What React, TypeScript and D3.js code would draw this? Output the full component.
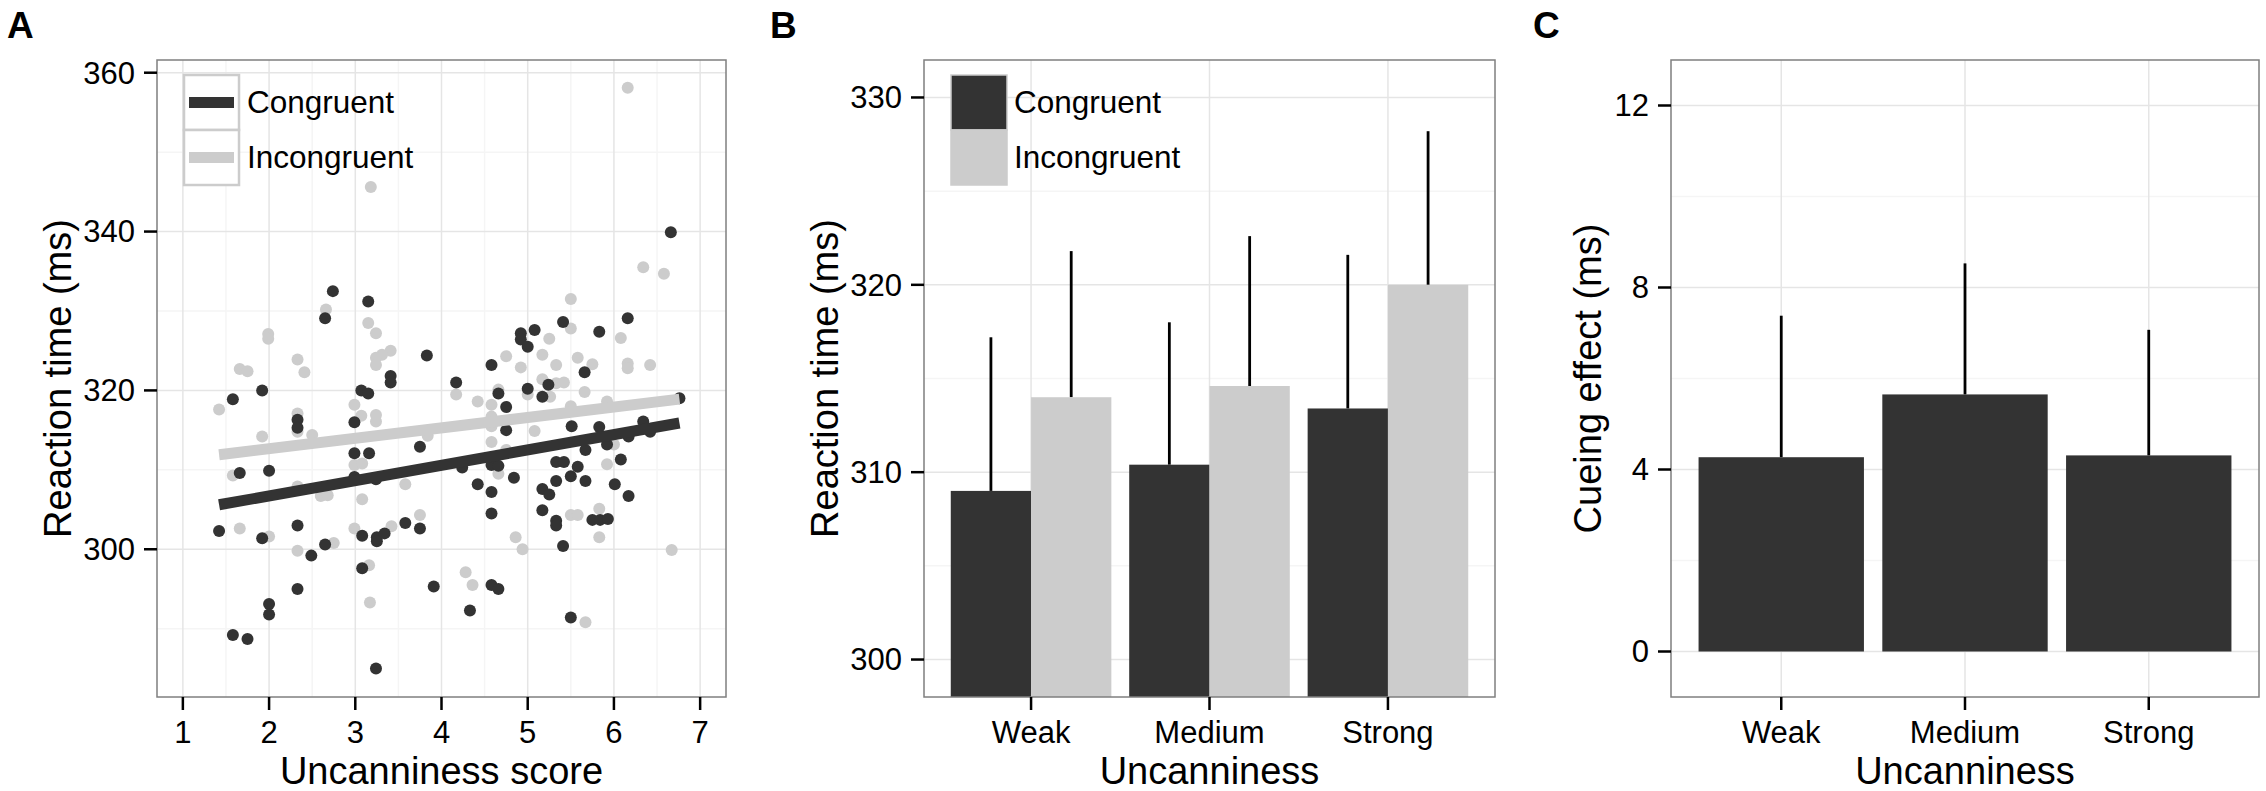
import * as d3 from 'd3';

// panel A: individual participants (uncanniness score, mean RT)
const congruentPoints: [number, number][] = [
  [2.74, 332.5], [3.15, 331.2], [2.65, 329.1], [3.83, 324.4], [3.41, 321.8], [3.41, 321.0],
  [3.07, 320.0], [3.15, 319.6], [1.92, 320.0], [1.58, 318.9], [2.33, 316.3], [2.33, 315.3],
  [2.99, 316.0], [2.99, 312.1], [3.16, 312.1], [3.75, 312.9], [1.66, 309.6], [2.0, 309.9],
  [1.42, 302.3], [1.92, 301.4], [2.33, 303.0], [2.49, 299.2], [2.65, 300.6], [3.08, 301.7],
  [3.25, 301.5], [3.25, 301.0], [3.34, 302.0], [3.58, 303.3], [3.75, 302.6], [3.08, 297.6],
  [2.33, 295.0], [2.0, 293.1], [2.0, 291.8], [1.58, 289.2], [1.75, 288.7], [3.24, 285.0],
  [3.91, 295.3], [2.99, 309.1], [3.24, 308.8],
  [4.24, 310.3], [4.42, 308.2], [4.58, 307.2], [4.58, 304.5], [4.84, 309.0], [4.58, 310.6],
  [4.66, 310.5], [5.17, 307.6], [5.25, 306.9], [5.17, 304.9], [5.33, 303.6], [5.33, 303.0],
  [5.41, 300.4], [5.33, 308.6], [5.33, 311.0], [5.42, 311.0], [5.5, 309.2], [5.58, 310.4],
  [5.67, 308.6], [5.75, 303.7], [5.84, 303.7], [5.93, 303.8], [6.01, 308.2], [6.17, 306.7],
  [6.08, 311.3], [4.58, 295.5], [4.66, 295.0], [4.33, 292.3], [5.5, 291.4],
  [6.66, 339.9], [6.16, 329.1], [5.41, 328.6], [5.83, 327.4], [5.08, 327.6], [4.92, 327.2],
  [4.92, 326.4], [5.0, 325.5], [4.58, 323.2], [5.66, 322.3], [4.17, 321.0], [4.66, 319.6],
  [5.0, 320.2], [5.17, 319.2], [5.24, 320.7], [4.75, 317.9], [6.76, 319.0], [4.75, 315.0],
  [5.51, 315.5], [5.83, 315.4], [6.34, 316.1], [6.42, 314.8], [6.17, 314.2], [5.67, 312.5],
  [5.92, 313.2],
];

const incongruentPoints: [number, number][] = [
  [3.18, 345.6], [6.16, 358.1], [6.34, 335.5], [6.58, 334.7],
  [2.66, 330.2], [3.15, 328.5], [3.24, 327.2], [1.99, 327.1], [1.99, 326.5], [3.41, 325.0],
  [3.31, 324.5], [3.24, 324.1], [3.24, 323.2], [1.66, 322.7], [1.75, 322.4], [2.33, 323.9],
  [2.41, 322.3], [1.42, 317.6], [1.92, 314.2], [2.33, 317.1], [2.33, 314.8], [2.5, 314.4],
  [2.99, 318.2], [3.07, 316.8], [3.24, 316.9], [3.24, 316.1], [2.99, 310.6], [3.08, 310.8],
  [3.84, 314.3],
  [1.58, 309.3], [1.66, 302.6], [2.0, 301.6], [2.33, 299.8], [2.75, 300.8], [2.99, 302.6],
  [3.08, 306.3], [3.16, 298.0], [3.17, 293.3], [3.42, 302.9], [3.58, 308.2], [3.75, 304.3],
  [2.6, 306.7], [2.68, 306.8], [2.33, 307.9],
  [4.66, 309.5], [4.86, 301.5], [4.94, 300.0], [4.28, 297.1], [4.36, 295.5], [5.5, 304.3],
  [5.58, 304.3], [5.83, 305.1], [5.83, 301.5], [5.92, 310.7], [6.67, 299.9], [5.67, 290.8],
  [5.5, 331.5], [5.5, 327.8], [5.25, 326.5], [6.08, 326.6], [4.75, 324.3], [5.17, 324.5],
  [4.92, 322.9], [5.33, 323.2], [5.58, 324.1], [5.75, 323.3], [6.16, 323.4], [6.16, 322.8],
  [6.42, 323.2], [5.17, 321.4], [5.33, 320.9], [5.42, 321.0], [4.17, 319.5], [4.66, 320.1],
  [5.0, 319.5], [5.26, 319.2], [5.66, 319.8], [4.42, 318.6], [4.58, 318.2], [4.58, 316.7],
  [4.58, 315.5], [5.92, 318.6], [5.5, 318.0], [5.08, 314.9], [4.58, 313.5], [6.0, 313.2],
  [4.75, 312.5],
];

// fitted regression lines (end points)
const congruentFit: [number, number][] = [[1.42, 305.6], [6.76, 315.9]];
const incongruentFit: [number, number][] = [[1.42, 311.9], [6.76, 318.9]];

const scoreTicks = [1, 2, 3, 4, 5, 6, 7];
const rtTicksA = [300, 320, 340, 360];

// panel B
const levels = ['Weak', 'Medium', 'Strong'];
const conditions = ['Congruent', 'Incongruent'];
const congruentMeans = [309.0, 310.4, 313.4];
const incongruentMeans = [314.0, 314.6, 320.0];
const congruentErr = [8.2, 7.6, 8.2];
const incongruentErr = [7.8, 8.0, 8.2];
const rtTicksB = [300, 310, 320, 330];

// panel C
const cueingEffect = [4.27, 5.65, 4.31];
const cueingErr = [3.11, 2.88, 2.76];
const cueTicks = [0, 4, 8, 12];

const DARK = '#333333';
const LIGHT = '#cccccc';
const FONT = '"Liberation Sans", Arial, Helvetica, sans-serif';
const TOP = 60;
const BOTTOM = 697;

function Frame({ left, right, yScale, yTicks, yMinor, xTicks, xMinor, xScale, yTitle, xTitle, letter, letterX, children }: any) {
  const cy = (TOP + BOTTOM) / 2;
  return (
    <g>
      <rect x={left} y={TOP} width={right - left} height={BOTTOM - TOP} fill="#fff" />
      {yMinor.map((t: number) => (
        <line key={'ym' + t} x1={left} x2={right} y1={yScale(t)} y2={yScale(t)} stroke="#f5f5f5" strokeWidth={1.5} />
      ))}
      {xMinor.map((t: number) => (
        <line key={'xm' + t} x1={xScale(t)} x2={xScale(t)} y1={TOP} y2={BOTTOM} stroke="#f5f5f5" strokeWidth={1.5} />
      ))}
      {yTicks.map((t: number) => (
        <line key={'yM' + t} x1={left} x2={right} y1={yScale(t)} y2={yScale(t)} stroke="#e5e5e5" strokeWidth={1.5} />
      ))}
      {xTicks.map((t: any) => (
        <line key={'xM' + t} x1={xScale(t)} x2={xScale(t)} y1={TOP} y2={BOTTOM} stroke="#e5e5e5" strokeWidth={1.5} />
      ))}
      {children}
      <rect x={left} y={TOP} width={right - left} height={BOTTOM - TOP} fill="none" stroke="#7f7f7f" strokeWidth={1.5} />
      {yTicks.map((t: number) => (
        <g key={'yt' + t}>
          <line x1={left - 13} x2={left} y1={yScale(t)} y2={yScale(t)} stroke="#000" strokeWidth={2.5} />
          <text x={left - 22} y={yScale(t)} dy="0.35em" textAnchor="end" fontSize={31}>{t}</text>
        </g>
      ))}
      {xTicks.map((t: any) => (
        <g key={'xt' + t}>
          <line x1={xScale(t)} x2={xScale(t)} y1={BOTTOM} y2={BOTTOM + 13} stroke="#000" strokeWidth={2.5} />
          <text x={xScale(t)} y={743} textAnchor="middle" fontSize={31}>{t}</text>
        </g>
      ))}
      <text x={(left + right) / 2} y={784} textAnchor="middle" fontSize={38}>{xTitle}</text>
      <text transform={`translate(${yTitle.x},${cy}) rotate(-90)`} textAnchor="middle" fontSize={38}>{yTitle.text}</text>
      <text x={letterX} y={38} fontSize={37} fontWeight="bold">{letter}</text>
    </g>
  );
}

function PanelA() {
  const left = 157, right = 726;
  const x = d3.scaleLinear().domain([0.7, 7.3]).range([left, right]);
  const y = d3.scaleLinear().domain([281.4, 361.6]).range([BOTTOM, TOP]);
  const line = d3.line<[number, number]>().x((d) => x(d[0])).y((d) => y(d[1]));
  const kx = left + 27;
  const ky = TOP + 15;
  return (
    <Frame left={left} right={right} yScale={y} xScale={x} yTicks={rtTicksA} yMinor={[290, 310, 330, 350]}
      xTicks={scoreTicks} xMinor={[1.5, 2.5, 3.5, 4.5, 5.5, 6.5]}
      yTitle={{ x: 71, text: 'Reaction time (ms)' }} xTitle="Uncanniness score" letter="A" letterX={7}>
      {incongruentPoints.map((d, i) => (
        <circle key={'i' + i} cx={x(d[0])} cy={y(d[1])} r={6} fill={LIGHT} />
      ))}
      {congruentPoints.map((d, i) => (
        <circle key={'c' + i} cx={x(d[0])} cy={y(d[1])} r={6} fill={DARK} />
      ))}
      <path d={line(incongruentFit) || ''} stroke={LIGHT} strokeWidth={11} fill="none" />
      <path d={line(congruentFit) || ''} stroke={DARK} strokeWidth={11} fill="none" />
      {conditions.map((c, i) => (
        <g key={c}>
          <rect x={kx} y={ky + i * 55} width={55} height={55} fill="#fff" stroke={LIGHT} strokeWidth={2.5} />
          <line x1={kx + 5} x2={kx + 50} y1={ky + i * 55 + 27.5} y2={ky + i * 55 + 27.5}
            stroke={i === 0 ? DARK : LIGHT} strokeWidth={11} />
          <text x={kx + 63} y={ky + i * 55 + 38} fontSize={31.5}>{c}</text>
        </g>
      ))}
    </Frame>
  );
}

function PanelB() {
  const left = 924, right = 1495;
  const x = d3.scaleBand<string>().domain(levels).range([left, right]).paddingInner(0.1).paddingOuter(0.15);
  const sub = d3.scaleBand<string>().domain(conditions).range([0, x.bandwidth()]);
  const y = d3.scaleLinear().domain([298, 332]).range([BOTTOM, TOP]);
  const series = [
    { name: conditions[0], means: congruentMeans, err: congruentErr, fill: DARK },
    { name: conditions[1], means: incongruentMeans, err: incongruentErr, fill: LIGHT },
  ];
  const xc = (l: string) => (x(l) as number) + x.bandwidth() / 2;
  const kx = left + 27;
  const ky = TOP + 15;
  return (
    <Frame left={left} right={right} yScale={y} xScale={xc} yTicks={rtTicksB} yMinor={[305, 315, 325]}
      xTicks={levels} xMinor={[]} yTitle={{ x: 838, text: 'Reaction time (ms)' }} xTitle="Uncanniness"
      letter="B" letterX={770}>
      {series.map((s) =>
        levels.map((l, i) => {
          const bx = (x(l) as number) + (sub(s.name) as number);
          const cx = bx + sub.bandwidth() / 2;
          return (
            <g key={s.name + l}>
              <line x1={cx} x2={cx} y1={y(s.means[i])} y2={y(s.means[i] + s.err[i])} stroke="#000" strokeWidth={2.8} />
              <rect x={bx} y={y(s.means[i])} width={sub.bandwidth()} height={BOTTOM - y(s.means[i])} fill={s.fill} />
            </g>
          );
        }),
      )}
      {series.map((s, i) => (
        <g key={'lg' + s.name}>
          <rect x={kx} y={ky + i * 55} width={56} height={55} fill={s.fill} stroke={LIGHT} strokeWidth={1.5} />
          <text x={kx + 63} y={ky + i * 55 + 38} fontSize={31.5}>{s.name}</text>
        </g>
      ))}
    </Frame>
  );
}

function PanelC() {
  const left = 1671, right = 2259;
  const x = d3.scaleBand<string>().domain(levels).range([left, right]).paddingInner(0.1).paddingOuter(0.15);
  const y = d3.scaleLinear().domain([-1, 13]).range([BOTTOM, TOP]);
  const xc = (l: string) => (x(l) as number) + x.bandwidth() / 2;
  return (
    <Frame left={left} right={right} yScale={y} xScale={xc} yTicks={cueTicks} yMinor={[2, 6, 10]}
      xTicks={levels} xMinor={[]} yTitle={{ x: 1601, text: 'Cueing effect (ms)' }} xTitle="Uncanniness"
      letter="C" letterX={1533}>
      {levels.map((l, i) => (
        <g key={l}>
          <line x1={xc(l)} x2={xc(l)} y1={y(cueingEffect[i])} y2={y(cueingEffect[i] + cueingErr[i])} stroke="#000" strokeWidth={2.8} />
          <rect x={x(l)} y={y(cueingEffect[i])} width={x.bandwidth()} height={y(0) - y(cueingEffect[i])} fill={DARK} />
        </g>
      ))}
    </Frame>
  );
}

export default function App() {
  return (
    <svg width={2266} height={791} style={{ position: 'absolute', left: 0, top: 0, background: '#fff' }}
      fontFamily={FONT} fill="#000">
      <rect width={2266} height={791} fill="#fff" />
      <PanelA />
      <PanelB />
      <PanelC />
    </svg>
  );
}
